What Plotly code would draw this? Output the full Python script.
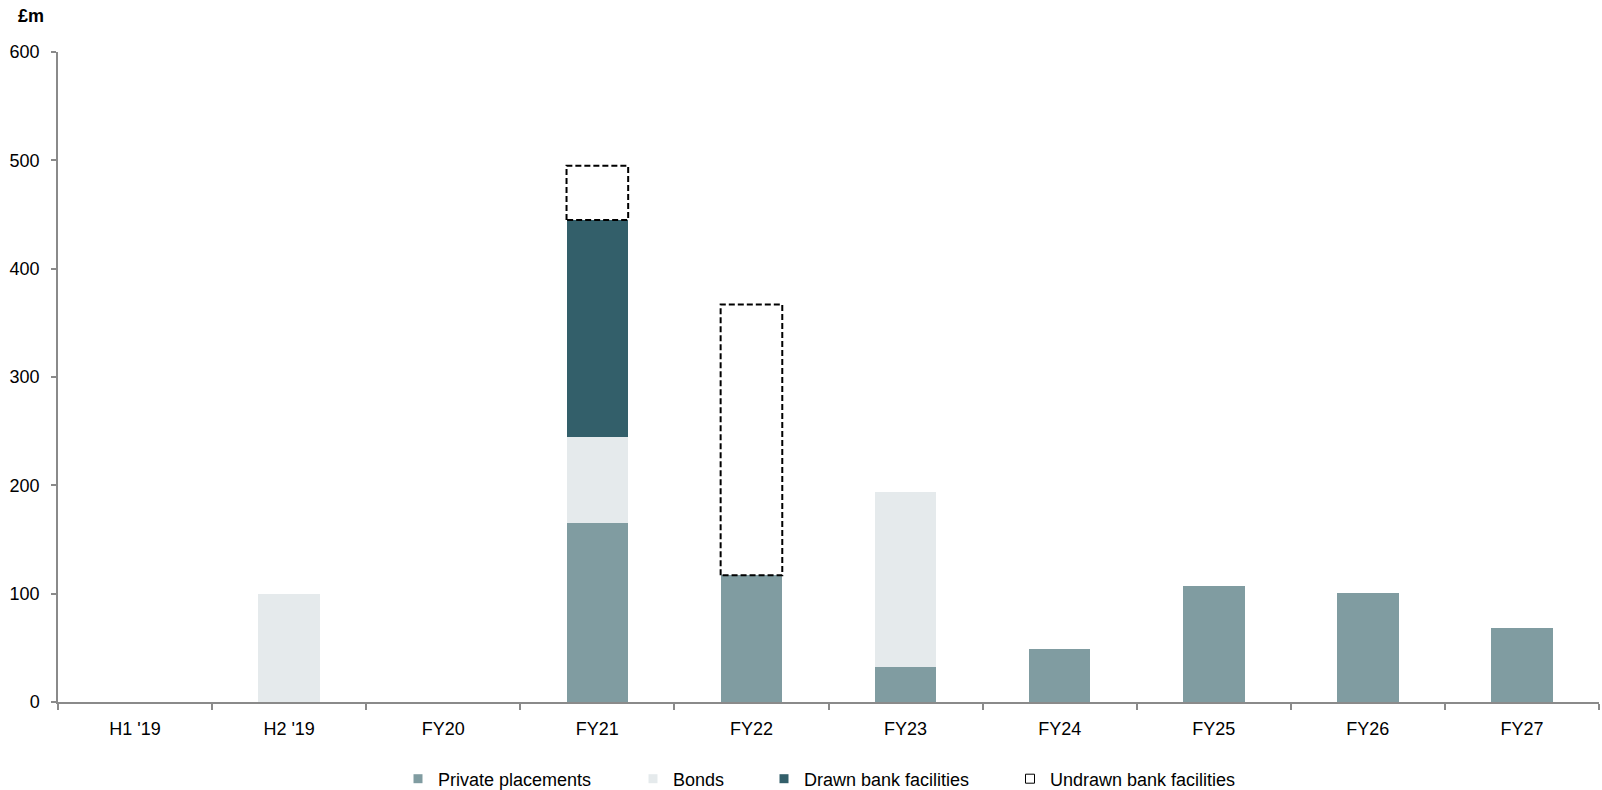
import plotly.graph_objects as go

categories = ["H1 '19", "H2 '19", "FY20", "FY21", "FY22", "FY23", "FY24", "FY25", "FY26", "FY27"]
private_placements = [0, 0, 0, 165, 117, 32, 49, 107, 101, 68]
bonds = [0, 100, 0, 80, 0, 162, 0, 0, 0, 0]
drawn_bank = [0, 0, 0, 200, 0, 0, 0, 0, 0, 0]
undrawn_bank = [0, 0, 0, 50, 250, 0, 0, 0, 0, 0]
y_ticks = [0, 100, 200, 300, 400, 500, 600]

C_PP = "#809ca1"
C_BONDS = "#e5eaec"
C_DRAWN = "#335f6a"
FONT = "Liberation Sans, Arial, sans-serif"
BAR_W = 0.4

fig = go.Figure()
fig.add_trace(go.Bar(x=categories, y=private_placements, marker=dict(color=C_PP, line=dict(width=0)),
                     width=BAR_W, showlegend=False, name="Private placements"))
fig.add_trace(go.Bar(x=categories, y=bonds, marker=dict(color=C_BONDS, line=dict(width=0)),
                     width=BAR_W, showlegend=False, name="Bonds"))
fig.add_trace(go.Bar(x=categories, y=drawn_bank, marker=dict(color=C_DRAWN, line=dict(width=0)),
                     width=BAR_W, showlegend=False, name="Drawn bank facilities"))
fig.add_trace(go.Bar(x=categories, y=undrawn_bank, marker=dict(color="rgba(255,255,255,0)", line=dict(width=0)),
                     width=BAR_W, showlegend=False, name="Undrawn bank facilities", hoverinfo="skip"))

# dashed outlines for undrawn facilities (numeric overlay axis aligned with categories)
ox, oy = [], []
for i, u in enumerate(undrawn_bank):
    if u > 0:
        base = private_placements[i] + bonds[i] + drawn_bank[i]
        top = base + u
        l, r = i - BAR_W / 2, i + BAR_W / 2
        ox += [l, l, r, r, l, None]
        oy += [base, top, top, base, base, None]
fig.add_trace(go.Scatter(x=ox, y=oy, xaxis="x2", mode="lines",
                         line=dict(color="black", width=2, dash="6px,3px"),
                         showlegend=False, hoverinfo="skip"))

# legend entries
legend_items = [
    ("Private placements", C_PP, C_PP, "legend"),
    ("Bonds", C_BONDS, C_BONDS, "legend2"),
    ("Drawn bank facilities", C_DRAWN, C_DRAWN, "legend3"),
    ("Undrawn bank facilities", "white", "black", "legend4"),
]
for name, fill, edge, lg in legend_items:
    fig.add_trace(go.Scatter(x=[None], y=[None], mode="markers", name=name, legend=lg,
                             marker=dict(symbol="square", size=9, color=fill,
                                         line=dict(color=edge, width=1 if edge == "black" else 0))))

text_starts = [438, 673, 804, 1050]
leg_common = dict(orientation="h", xref="container", yref="container", xanchor="left",
                  yanchor="middle", y=(790 - 779) / 790, bgcolor="rgba(0,0,0,0)",
                  font=dict(family=FONT, size=18, color="#000"), itemwidth=30)
fig.update_layout(
    legend=dict(x=(text_starts[0] - 40) / 1602, **leg_common),
    legend2=dict(x=(text_starts[1] - 40) / 1602, **leg_common),
    legend3=dict(x=(text_starts[2] - 40) / 1602, **leg_common),
    legend4=dict(x=(text_starts[3] - 40) / 1602, **leg_common),
)

fig.update_layout(
    width=1602, height=790,
    barmode="stack",
    plot_bgcolor="white", paper_bgcolor="white",
    margin=dict(l=58, r=3, t=52, b=88),
    font=dict(family=FONT, size=18, color="#000"),
    xaxis=dict(type="category", range=[-0.5, 9.5], showline=True, linecolor="#8a8a8a", linewidth=1.5,
               ticks="outside", tickson="boundaries", ticklen=6, tickcolor="#8a8a8a", tickwidth=1.5,
               showgrid=False, zeroline=False, ticklabelstandoff=10, tickfont=dict(size=18, color="#000")),
    xaxis2=dict(overlaying="x", range=[-0.5, 9.5], visible=False, showgrid=False, zeroline=False),
    yaxis=dict(range=[0, 600], tickvals=y_ticks, showline=True, linecolor="#8a8a8a", linewidth=1.5,
               ticks="outside", ticklen=5, tickcolor="#8a8a8a", tickwidth=1.5, showgrid=False,
               zeroline=False, ticklabelstandoff=8, tickfont=dict(size=18, color="#000")),
    annotations=[dict(text="<b>£m</b>", xref="paper", yref="paper", x=-58 / 1541 + 16 / 1541, y=1,
                      xanchor="left", yanchor="bottom", yshift=24, showarrow=False,
                      font=dict(family=FONT, size=18, color="#000"))],
)

fig.write_html("out.html")
